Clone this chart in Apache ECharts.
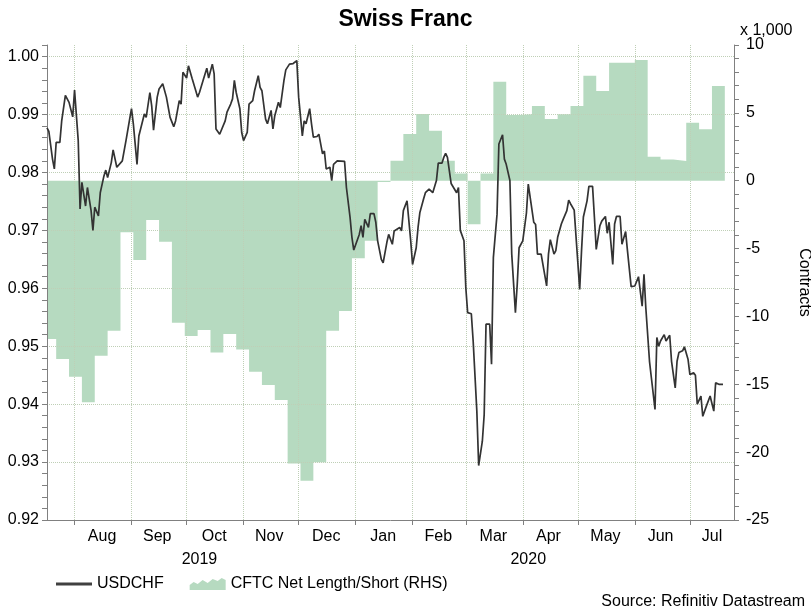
<!DOCTYPE html>
<html>
<head>
<meta charset="utf-8">
<title>Swiss Franc</title>
<script src="https://cdn.jsdelivr.net/npm/echarts@6/dist/echarts.min.js"></script>
<style>
  html, body { margin: 0; padding: 0; background: #fff; }
  #chart { width: 811px; height: 609px; }
</style>
</head>
<body>
<div id="chart"></div>
<script>
// ------------------------------------------------------- //
// Data
// ------------------------------------------------------ //
var usdchfDates = [
  '2019-07-17','2019-07-18','2019-07-20','2019-07-21','2019-07-22','2019-07-24','2019-07-25','2019-07-27','2019-07-29','2019-07-31',
  '2019-08-01','2019-08-03','2019-08-04','2019-08-05','2019-08-07','2019-08-08','2019-08-10','2019-08-11','2019-08-12','2019-08-14',
  '2019-08-15','2019-08-17','2019-08-18','2019-08-19','2019-08-21','2019-08-22','2019-08-24','2019-08-25','2019-08-27','2019-08-28',
  '2019-08-29','2019-08-31','2019-09-01','2019-09-02','2019-09-04','2019-09-05','2019-09-06','2019-09-08','2019-09-09','2019-09-11',
  '2019-09-12','2019-09-13','2019-09-15','2019-09-16','2019-09-18','2019-09-20','2019-09-21','2019-09-22','2019-09-24','2019-09-25',
  '2019-09-27','2019-09-28','2019-09-29','2019-10-01','2019-10-02','2019-10-04','2019-10-06','2019-10-07','2019-10-08','2019-10-10',
  '2019-10-12','2019-10-13','2019-10-15','2019-10-16','2019-10-17','2019-10-19','2019-10-20','2019-10-22','2019-10-23','2019-10-25',
  '2019-10-26','2019-10-27','2019-10-28','2019-10-30','2019-10-31','2019-11-01','2019-11-03','2019-11-04','2019-11-06','2019-11-07',
  '2019-11-09','2019-11-10','2019-11-11','2019-11-13','2019-11-14','2019-11-16','2019-11-17','2019-11-18','2019-11-20','2019-11-21',
  '2019-11-23','2019-11-24','2019-11-26','2019-11-27','2019-11-28','2019-11-30','2019-12-01','2019-12-03','2019-12-04','2019-12-05',
  '2019-12-07','2019-12-08','2019-12-09','2019-12-11','2019-12-12','2019-12-14','2019-12-15','2019-12-16','2019-12-18','2019-12-19',
  '2019-12-20','2019-12-22','2019-12-23','2019-12-26','2019-12-27','2019-12-29','2019-12-30','2019-12-31','2020-01-01','2020-01-03',
  '2020-01-04','2020-01-05','2020-01-06','2020-01-08','2020-01-09','2020-01-11','2020-01-12','2020-01-13','2020-01-15','2020-01-16',
  '2020-01-18','2020-01-19','2020-01-21','2020-01-22','2020-01-23','2020-01-25','2020-01-26','2020-01-27','2020-01-29','2020-01-31',
  '2020-02-01','2020-02-03','2020-02-04','2020-02-05','2020-02-07','2020-02-08','2020-02-10','2020-02-11','2020-02-12','2020-02-14',
  '2020-02-15','2020-02-17','2020-02-18','2020-02-19','2020-02-20','2020-02-22','2020-02-23','2020-02-25','2020-02-26','2020-02-27',
  '2020-02-29','2020-03-01','2020-03-02','2020-03-04','2020-03-05','2020-03-07','2020-03-08','2020-03-10','2020-03-11','2020-03-12',
  '2020-03-14','2020-03-15','2020-03-16','2020-03-18','2020-03-19','2020-03-21','2020-03-22','2020-03-23','2020-03-25','2020-03-26',
  '2020-03-28','2020-03-29','2020-03-30','2020-04-01','2020-04-03','2020-04-04','2020-04-05','2020-04-07','2020-04-08','2020-04-09',
  '2020-04-11','2020-04-12','2020-04-14','2020-04-15','2020-04-16','2020-04-18','2020-04-19','2020-04-20','2020-04-22','2020-04-23',
  '2020-04-25','2020-04-26','2020-04-27','2020-04-29','2020-04-30','2020-05-02','2020-05-03','2020-05-04','2020-05-06','2020-05-07',
  '2020-05-09','2020-05-10','2020-05-11','2020-05-13','2020-05-14','2020-05-16','2020-05-17','2020-05-18','2020-05-20','2020-05-21',
  '2020-05-22','2020-05-24','2020-05-25','2020-05-27','2020-05-28','2020-05-30','2020-06-01','2020-06-02','2020-06-03','2020-06-05',
  '2020-06-06','2020-06-07','2020-06-09','2020-06-10','2020-06-12','2020-06-13','2020-06-14','2020-06-15','2020-06-17','2020-06-18',
  '2020-06-20','2020-06-21','2020-06-23','2020-06-24','2020-06-25','2020-06-27','2020-06-28','2020-06-30','2020-07-01','2020-07-03',
  '2020-07-04','2020-07-05','2020-07-07','2020-07-08','2020-07-10','2020-07-11','2020-07-12','2020-07-14','2020-07-15','2020-07-17',
  '2020-07-19'
];
var usdchfValues = [
  0.9877,0.9871,0.9823,0.9806,0.9852,0.9852,0.9889,0.9933,0.9921,0.9896,
  0.9942,0.9855,0.9737,0.9783,0.9742,0.9774,0.9734,0.9700,0.9740,0.9725,
  0.9765,0.9794,0.9804,0.9791,0.9817,0.9839,0.9809,0.9809,0.9820,0.9817,
  0.9855,0.9892,0.9910,0.9884,0.9814,0.9863,0.9863,0.9901,0.9895,0.9938,
  0.9915,0.9873,0.9930,0.9944,0.9953,0.9930,0.9927,0.9895,0.9879,0.9889,
  0.9924,0.9918,0.9973,0.9963,0.9984,0.9962,0.9941,0.9930,0.9938,0.9959,
  0.9980,0.9963,0.9987,0.9970,0.9875,0.9866,0.9863,0.9889,0.9904,0.9918,
  0.9927,0.9959,0.9938,0.9910,0.9869,0.9855,0.9869,0.9918,0.9924,0.9941,
  0.9967,0.9947,0.9941,0.9892,0.9884,0.9907,0.9875,0.9898,0.9921,0.9912,
  0.9959,0.9977,0.9987,0.9990,0.9988,0.9993,0.9930,0.9863,0.9889,0.9884,
  0.9910,0.9884,0.9861,0.9862,0.9866,0.9832,0.9837,0.9806,0.9809,0.9786,
  0.9814,0.9820,0.9820,0.9819,0.9774,0.9722,0.9688,0.9666,0.9666,0.9693,
  0.9708,0.9688,0.9719,0.9705,0.9729,0.9729,0.9714,0.9682,0.9650,0.9644,
  0.9679,0.9693,0.9676,0.9699,0.9700,0.9705,0.9699,0.9734,0.9751,0.9682,
  0.9641,0.9670,0.9705,0.9731,0.9754,0.9765,0.9771,0.9770,0.9765,0.9786,
  0.9816,0.9816,0.9826,0.9833,0.9826,0.9781,0.9779,0.9765,0.9774,0.9700,
  0.9682,0.9601,0.9558,0.9556,0.9509,0.9388,0.9294,0.9336,0.9382,0.9538,
  0.9538,0.9469,0.9653,0.9728,0.9849,0.9865,0.9823,0.9814,0.9786,0.9659,
  0.9558,0.9607,0.9670,0.9682,0.9730,0.9780,0.9783,0.9714,0.9710,0.9659,
  0.9659,0.9658,0.9604,0.9659,0.9684,0.9659,0.9665,0.9688,0.9711,0.9719,
  0.9734,0.9752,0.9746,0.9735,0.9734,0.9598,0.9665,0.9723,0.9751,0.9776,
  0.9776,0.9723,0.9667,0.9708,0.9716,0.9724,0.9695,0.9714,0.9641,0.9711,
  0.9724,0.9724,0.9676,0.9698,0.9665,0.9603,0.9604,0.9607,0.9620,0.9569,
  0.9624,0.9566,0.9474,0.9446,0.9391,0.9515,0.9500,0.9509,0.9520,0.9509,
  0.9519,0.9474,0.9428,0.9474,0.9489,0.9492,0.9499,0.9477,0.9451,0.9454,
  0.9450,0.9400,0.9414,0.9379,0.9397,0.9395,0.9414,0.9388,0.9437,0.9434,
  0.9434
];

// CFTC net position, thousands of contracts, weekly
var cftcDates = [
  '2019-07-15','2019-07-22','2019-07-29','2019-08-05','2019-08-12','2019-08-19','2019-08-26','2019-09-02','2019-09-09','2019-09-16',
  '2019-09-23','2019-09-30','2019-10-07','2019-10-14','2019-10-21','2019-10-28','2019-11-04','2019-11-11','2019-11-18','2019-11-25',
  '2019-12-02','2019-12-09','2019-12-16','2019-12-23','2019-12-30','2020-01-06','2020-01-13','2020-01-20','2020-01-27','2020-02-03',
  '2020-02-10','2020-02-17','2020-02-24','2020-03-02','2020-03-09','2020-03-16','2020-03-23','2020-03-30','2020-04-06','2020-04-13',
  '2020-04-20','2020-04-27','2020-05-04','2020-05-11','2020-05-18','2020-05-25','2020-06-01','2020-06-08','2020-06-15','2020-06-22',
  '2020-06-29','2020-07-06','2020-07-13','2020-07-20'
];
var cftcValues = [
  -11.66,-13.14,-14.44,-16.33,-12.9,-11.05,-3.8,-5.84,-2.9,-4.49,
  -10.46,-11.45,-11.0,-12.65,-11.3,-12.43,-14.07,-15.06,-16.16,-20.83,
  -22.1,-20.75,-11.05,-9.6,-5.72,-4.42,-0.1,1.47,3.44,4.92,
  3.68,1.47,0.54,-3.21,0.54,7.3,4.84,4.9,5.5,4.55,
  4.9,5.5,7.74,6.61,8.7,8.7,8.9,1.77,1.57,1.45,
  4.28,3.79,6.98,6.98
];

var monthTickDates = ['2019-08-01','2019-09-01','2019-10-01','2019-11-01','2019-12-01','2020-01-01',
  '2020-02-01','2020-03-01','2020-04-01','2020-05-01','2020-06-01','2020-07-01'];
var monthLabelDates = ['2019-08-16','2019-09-15','2019-10-16','2019-11-15','2019-12-16','2020-01-16',
  '2020-02-15','2020-03-16','2020-04-15','2020-05-16','2020-06-15','2020-07-13'];
var monthLabels = ['Aug','Sep','Oct','Nov','Dec','Jan','Feb','Mar','Apr','May','Jun','Jul'];
var yearLabelDates = ['2019-10-08', '2020-04-04'];
var yearLabels = ['2019', '2020'];

var FONT = '"Liberation Sans", Arial, Helvetica, sans-serif';
var areaColor = '#b6dac0';
var gridColor = '#bfcfb6';
var axisColor = '#808080';

function ms(s) {
    var p = s.split('-');
    return Date.UTC(+p[0], +p[1] - 1, +p[2]);
}

var usdchfData = usdchfDates.map(function (d, i) { return [ms(d), usdchfValues[i]]; });
var cftcData = cftcDates.map(function (d, i) { return [ms(d), cftcValues[i]]; });

var labelText = {};
monthLabelDates.forEach(function (d, i) { labelText[ms(d)] = monthLabels[i]; });
var yearText = {};
yearLabelDates.forEach(function (d, i) { yearText[ms(d)] = yearLabels[i]; });

var xMin = ms('2019-07-17');
var xMax = ms('2020-07-25');

// ------------------------------------------------------- //
// Chart
// ------------------------------------------------------ //
var chart = echarts.init(document.getElementById('chart'));
var option = {
    animation: false,
    backgroundColor: '#fff',
    textStyle: {fontFamily: FONT},
    title: {
        text: 'Swiss Franc',
        left: 'center',
        top: 3,
        textStyle: {fontSize: 23, fontWeight: 'bold', color: '#000', fontFamily: FONT}
    },
    grid: {left: 47, right: 77, top: 45, bottom: 89, outerBoundsMode: 'none'},
    legend: {
        left: 51, top: 571,
        itemWidth: 36, itemHeight: 14, itemGap: 26,
        symbolKeepAspect: true,
        textStyle: {fontSize: 16, color: '#000', fontFamily: FONT},
        data: [
            {name: 'USDCHF', icon: 'path://M0,0 L36,0 L36,3 L0,3 Z', itemStyle: {color: '#404040'}},
            {name: 'CFTC Net Length/Short (RHS)',
             icon: 'path://M0,14 L0,9 L4,6 L8,8 L13,4 L18,7 L23,3 L28,5 L32,2 L36,4 L36,14 Z',
             itemStyle: {color: areaColor}}
        ]
    },
    xAxis: [{
        type: 'value', min: xMin, max: xMax,
        axisLine: {show: true, onZero: false, lineStyle: {color: axisColor}},
        axisTick: {show: true, customValues: monthTickDates.map(ms), length: 5, lineStyle: {color: axisColor}},
        axisLabel: {
            customValues: monthLabelDates.map(ms),
            formatter: function (v) { return labelText[v] || ''; },
            margin: 9, fontSize: 16, color: '#000', fontFamily: FONT
        },
        splitLine: {show: true, lineStyle: {type: 'dotted', color: gridColor}}
    }, {
        type: 'value', min: xMin, max: xMax, position: 'bottom',
        axisLine: {show: false, onZero: false}, axisTick: {show: false}, splitLine: {show: false},
        axisLabel: {
            customValues: yearLabelDates.map(ms),
            formatter: function (v) { return yearText[v] || ''; },
            margin: 32, fontSize: 16, color: '#000', fontFamily: FONT
        }
    }],
    yAxis: [{
        type: 'value', position: 'left', min: 0.92, max: 1.002, interval: 0.01,
        axisLine: {show: true, onZero: false, lineStyle: {color: axisColor}},
        axisTick: {show: true, length: 5, lineStyle: {color: axisColor}},
        axisLabel: {
            formatter: function (v) { return v > 1.0005 ? '' : v.toFixed(2); },
            showMaxLabel: false,
            margin: 8, fontSize: 16, color: '#000', fontFamily: FONT
        },
        splitLine: {show: true, showMaxLine: false, showMinLine: false,
                    lineStyle: {type: 'dotted', color: gridColor}}
    }, {
        type: 'value', position: 'right', min: -25, max: 10, interval: 5,
        name: 'Contracts', nameLocation: 'middle', nameRotate: -90, nameGap: 62,
        nameTextStyle: {fontSize: 16, color: '#000', fontFamily: FONT},
        axisLine: {show: true, onZero: false, lineStyle: {color: axisColor}},
        axisTick: {show: true, length: 5, lineStyle: {color: axisColor}},
        minorTick: {show: true, splitNumber: 5, length: 5, lineStyle: {color: axisColor}},
        axisLabel: {margin: 12, fontSize: 16, color: '#000', fontFamily: FONT},
        splitLine: {show: false}
    }, {
        // minor ticks for the left scale
        type: 'value', position: 'left', min: 0.92, max: 1.002, interval: 0.002,
        axisLine: {show: false, onZero: false},
        axisTick: {show: true, length: 5, lineStyle: {color: axisColor}},
        axisLabel: {show: false},
        splitLine: {show: false}
    }],
    series: [{
        name: 'CFTC Net Length/Short (RHS)',
        type: 'line',
        yAxisIndex: 1,
        step: 'end',
        symbol: 'none',
        z: -1,
        data: cftcData,
        lineStyle: {width: 0, color: areaColor},
        itemStyle: {color: areaColor},
        areaStyle: {color: areaColor, opacity: 1}
    }, {
        name: 'USDCHF',
        type: 'line',
        yAxisIndex: 0,
        symbol: 'none',
        z: 3,
        data: usdchfData,
        lineStyle: {color: '#333333', width: 1.7},
        itemStyle: {color: '#333333'}
    }],
    graphic: [{
        type: 'text', left: 740, top: 23,
        style: {text: 'x 1,000', fill: '#000', font: '16px ' + FONT}
    }, {
        type: 'text', right: 6, top: 594,
        style: {text: 'Source: Refinitiv Datastream', fill: '#000', font: '16px ' + FONT}
    }]
};
chart.setOption(option);

window.addEventListener('resize', function () {
    if (chart != null && chart != undefined) {
        chart.resize();
    }
});
</script>
</body>
</html>
